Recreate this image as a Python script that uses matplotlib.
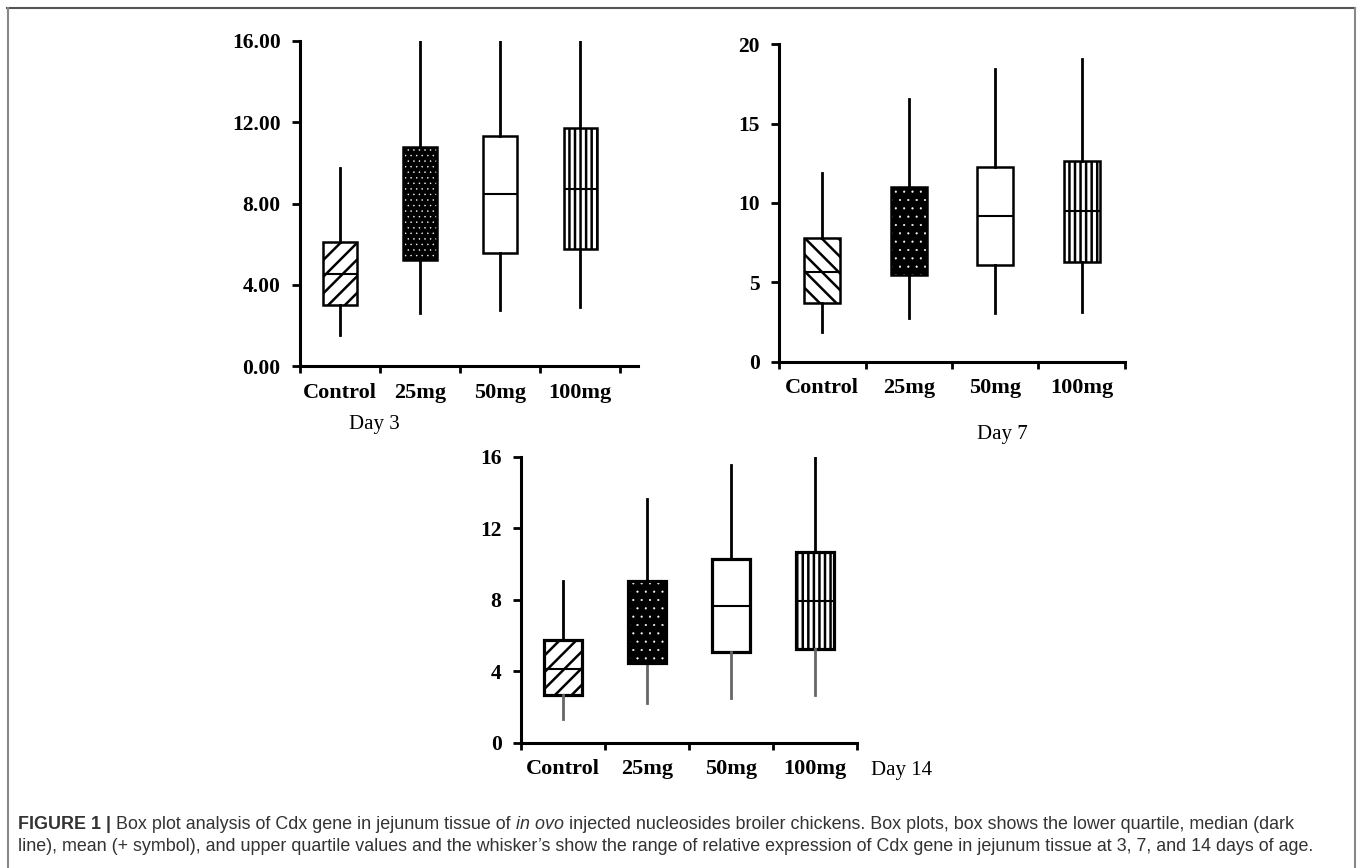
import matplotlib
matplotlib.use('Agg')
import matplotlib.pyplot as plt
from matplotlib.patches import PathPatch
from matplotlib.lines import Line2D

plt.rcParams['hatch.linewidth'] = 1.8

groups = ['Control', '25mg', '50mg', '100mg']

# five-number summaries: lower whisker, Q1, median, Q3, upper whisker
d3_low = [1.51, 2.63, 2.78, 2.91]
d3_q1 = [3.02, 5.20, 5.58, 5.78]
d3_med = [4.55, 7.90, 8.46, 8.70]
d3_q3 = [6.09, 10.79, 11.31, 11.71]
d3_high = [9.75, 16.0, 16.0, 16.0]

d7_low = [1.85, 2.77, 3.09, 3.13]
d7_q1 = [3.72, 5.46, 6.09, 6.28]
d7_med = [5.63, 8.40, 9.18, 9.47]
d7_q3 = [7.79, 11.03, 12.25, 12.63]
d7_high = [11.87, 16.55, 18.45, 19.05]

d14_low = [1.32, 2.24, 2.52, 2.65]
d14_q1 = [2.65, 4.44, 5.07, 5.22]
d14_med = [4.12, 6.80, 7.65, 7.95]
d14_q3 = [5.76, 9.07, 10.30, 10.67]
d14_high = [9.07, 13.62, 15.54, 16.0]

d3_yticks = [0, 4, 8, 12, 16]
d7_yticks = [0, 5, 10, 15, 20]
d14_yticks = [0, 4, 8, 12, 16]

SERIF = 'Liberation Serif'
W, H = 1357, 868

fig = plt.figure(figsize=(W / 100, H / 100), dpi=100)


def rect(x0, y_top, x1, y_bot):
    return [x0 / W, 1 - y_bot / H, (x1 - x0) / W, (y_bot - y_top) / H]


def panel(ax, low, q1, med, q3, high, yticks, fmt, width, hatches, xmax,
          low_color='black', box_lw=1.8):
    stats = [dict(whislo=a, q1=b, med=c, q3=d, whishi=e, label=g)
             for a, b, c, d, e, g in zip(low, q1, med, q3, high, groups)]
    bp = ax.bxp(stats, positions=range(len(groups)), widths=width,
                patch_artist=True, showcaps=False, showfliers=False,
                boxprops=dict(linewidth=box_lw, edgecolor='black', facecolor='white'),
                whiskerprops=dict(linewidth=2.0, color='black'),
                medianprops=dict(linewidth=1.5, color='black'))
    # lower whiskers come first in bp['whiskers']
    for w in bp['whiskers'][0::2]:
        w.set_color(low_color)
    for box, h, m in zip(bp['boxes'], hatches, bp['medians']):
        if h.startswith('.'):
            # black box with small white dots, black outline on top
            box.set_facecolor('black')
            box.set_edgecolor('white')
            box.set_linewidth(0)
            box.set_hatch(h)
            if hasattr(box, 'set_hatch_linewidth'):
                box.set_hatch_linewidth(0.3)
            m.set_visible(False)
            ax.add_patch(PathPatch(box.get_path(), facecolor='none',
                                   edgecolor='black', linewidth=box_lw,
                                   zorder=box.get_zorder() + 0.1))
        else:
            box.set_hatch(h)

    ax.set_xlim(-0.5, xmax)
    ax.set_ylim(yticks[0], yticks[-1])
    ax.set_yticks(yticks)
    ax.set_yticklabels([fmt % v for v in yticks])
    ax.set_xticks(range(len(groups)))
    ax.set_xticklabels(groups)
    ax.set_xticks([-0.5, 0.5, 1.5, 2.5, 3.5], minor=True)
    ax.tick_params(axis='x', which='major', length=0, pad=12)
    ax.tick_params(axis='x', which='minor', length=5, width=2, direction='out')
    ax.tick_params(axis='y', length=6, width=2, direction='out', pad=8)
    for lab in ax.get_yticklabels():
        lab.set_fontfamily(SERIF)
        lab.set_fontweight('bold')
        lab.set_fontsize(15.5)
    for lab in ax.get_xticklabels():
        lab.set_fontfamily(SERIF)
        lab.set_fontweight('bold')
        lab.set_fontsize(16)
    for s in ['top', 'right']:
        ax.spines[s].set_visible(False)
    for s in ['left', 'bottom']:
        ax.spines[s].set_linewidth(2.2)
    ax.patch.set_alpha(0)


ax1 = fig.add_axes(rect(300, 41, 638, 366))
panel(ax1, d3_low, d3_q1, d3_med, d3_q3, d3_high, d3_yticks, '%.2f', 0.42,
      ['//', '...', '', '|||'], 3.72)

ax2 = fig.add_axes(rect(779, 44.3, 1125, 361.7))
panel(ax2, d7_low, d7_q1, d7_med, d7_q3, d7_high, d7_yticks, '%d', 0.42,
      ['\\\\', '..', '', '|||'], 3.48)

ax3 = fig.add_axes(rect(521, 456.7, 857, 742.7))
panel(ax3, d14_low, d14_q1, d14_med, d14_q3, d14_high, d14_yticks, '%d', 0.45,
      ['//', '..', '', '|||'], 3.45, low_color='#666666', box_lw=2.3)

fig.text(374 / W, 1 - 424 / H, 'Day 3', family=SERIF, fontsize=15,
         ha='center', va='center')
fig.text(1002 / W, 1 - 434 / H, 'Day 7', family=SERIF, fontsize=15,
         ha='center', va='center')
fig.text(871 / W, 1 - 770 / H, 'Day 14', family=SERIF, fontsize=15,
         ha='left', va='center')

# frame round the figure (top, left, right)
fig.add_artist(Line2D([7 / W, 1355 / W], [1 - 8 / H, 1 - 8 / H],
                      transform=fig.transFigure, color='#555555', lw=1.5))
fig.add_artist(Line2D([8 / W, 8 / W], [0, 1 - 8 / H],
                      transform=fig.transFigure, color='#888888', lw=1.5))
fig.add_artist(Line2D([1355 / W, 1355 / W], [0, 1 - 8 / H],
                      transform=fig.transFigure, color='#888888', lw=1.5))

# caption, written run by run so bold/italic parts can sit inline
SANS = 'Liberation Sans'
CAP = 12.9
renderer = fig.canvas.get_renderer()


def text_width(s, **kw):
    t = fig.text(0, 0, s, fontsize=CAP, family=SANS, **kw)
    w = t.get_window_extent(renderer).width
    t.remove()
    return w


space = text_width('a a') - text_width('aa')


def put_runs(x_px, y_px, runs):
    x = x_px
    for s, kw in runs:
        t = fig.text(x / W, 1 - y_px / H, s, fontsize=CAP, family=SANS,
                     va='baseline', color='#333333', **kw)
        x = t.get_window_extent(renderer).x1 + space


put_runs(18, 829, [
    ('FIGURE 1 |', dict(fontweight='bold')),
    ('Box plot analysis of Cdx gene in jejunum tissue of', {}),
    ('in ovo', dict(style='italic')),
    ('injected nucleosides broiler chickens. Box plots, box shows the lower '
     'quartile, median (dark', {}),
])
put_runs(18, 851, [
    ('line), mean (+ symbol), and upper quartile values and the whisker\u2019s '
     'show the range of relative expression of Cdx gene in jejunum tissue at '
     '3, 7, and 14 days of age.', {}),
])

fig.savefig('out.png', dpi=100)
